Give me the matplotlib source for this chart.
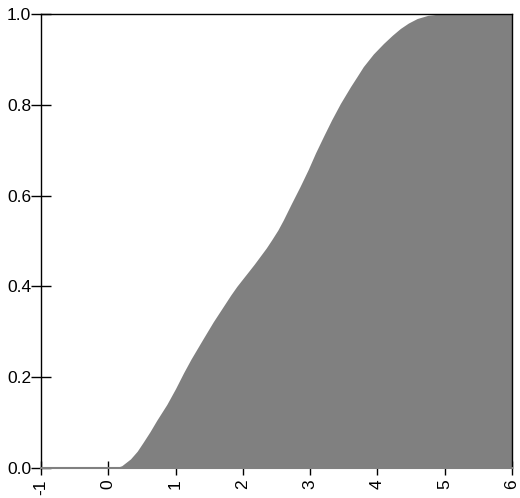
import matplotlib
matplotlib.use("Agg")
import matplotlib.pyplot as plt
import numpy as np

# curve (x, cumulative fraction)
xs = [-1.0, 0.0, 0.10, 0.20, 0.33, 0.43, 0.52, 0.62, 0.72, 0.87, 1.00, 1.12,
      1.23, 1.41, 1.56, 1.71, 1.82, 1.91, 2.00, 2.08, 2.17, 2.26, 2.35, 2.43,
      2.52, 2.60, 2.72, 2.85, 2.97, 3.08, 3.20, 3.32, 3.45, 3.60, 3.70, 3.79,
      3.94, 4.09, 4.22, 4.34, 4.46, 4.59, 4.75, 4.93, 6.0]
ys = [0.0, 0.0, 0.0, 0.005, 0.020, 0.037, 0.057, 0.080, 0.105, 0.140, 0.175, 0.210,
      0.240, 0.285, 0.322, 0.356, 0.381, 0.400, 0.417, 0.432, 0.449, 0.467, 0.485, 0.503,
      0.524, 0.546, 0.582, 0.620, 0.657, 0.694, 0.731, 0.767, 0.803, 0.840, 0.863, 0.884,
      0.912, 0.935, 0.953, 0.968, 0.980, 0.990, 0.997, 1.0, 1.0]

xticks = [-1, 0, 1, 2, 3, 4, 5, 6]
yticks = [0.0, 0.2, 0.4, 0.6, 0.8, 1.0]

plt.rcParams['font.family'] = ['Liberation Sans', 'DejaVu Sans']

fig = plt.figure(figsize=(5.2, 4.98), dpi=100)
ax = fig.add_axes([0.0788, 0.0602, 0.9058, 0.9117])

ax.fill_between(xs, 0, ys, color='#808080', linewidth=0)

ax.set_xlim(-1, 6)
ax.set_ylim(0, 1)
ax.set_axisbelow(True)

ax.set_xticks(xticks)
ax.set_xticklabels([str(t) for t in xticks], rotation=90)
ax.set_yticks(yticks)
ax.set_yticklabels(["%.1f" % t for t in yticks])

ax.tick_params(axis='y', direction='inout', length=14, width=1, pad=0, labelsize=12.5)
ax.tick_params(axis='x', direction='inout', length=10, width=1, pad=3, labelsize=12.5)

for s in ['left', 'top', 'right']:
    ax.spines[s].set_linewidth(1)
ax.spines['bottom'].set_color('#808080')
ax.spines['bottom'].set_linewidth(1.5)

plt.savefig('out.png', dpi=100)
